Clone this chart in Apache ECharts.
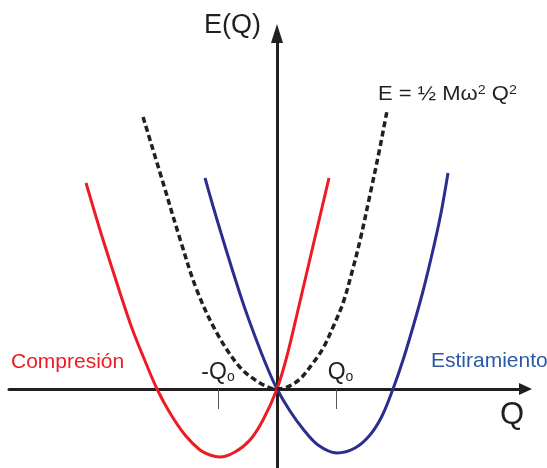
<!DOCTYPE html>
<html>
<head>
<meta charset="utf-8">
<script src="https://cdn.jsdelivr.net/npm/echarts@6/dist/echarts.min.js"></script>
<style>html,body{margin:0;padding:0;background:#fff;}#c{width:547px;height:468px;}</style>
</head>
<body>
<div id="c"></div>
<script>
// Q in units of Qo, E in arbitrary units
const redQ = [-3.237,-3.000,-2.780,-2.610,-2.441,-2.237,-2.034,-1.814,-1.559,-1.305,-1.136,-0.966,-0.712,-0.458,-0.237,0,0.169,0.356,0.610,0.881];
const redE = [3.492,2.695,2.000,1.475,0.983,0.475,0,-0.407,-0.780,-1.034,-1.119,-1.153,-1.068,-0.864,-0.525,0,0.559,1.339,2.424,3.576];
const blueQ = [-1.220,-1.085,-0.949,-0.746,-0.559,-0.356,-0.169,0,0.220,0.441,0.695,1.017,1.322,1.576,1.780,1.966,2.136,2.305,2.475,2.644,2.780,2.898];
const blueE = [3.576,3.102,2.644,1.983,1.407,0.847,0.373,0,-0.373,-0.678,-0.949,-1.085,-1.000,-0.780,-0.458,0,0.492,1.051,1.661,2.356,2.983,3.661];
const harmQ = [-2.27,-1.93,-1.64,-1.36,-1.02,-0.63,-0.32,-0.12,0,0.17,0.39,0.61,0.78,0.95,1.12,1.27,1.41,1.58,1.73,1.86];
const harmE = [4.61,3.49,2.53,1.68,0.95,0.37,0.12,0.02,0,0.03,0.17,0.44,0.69,1.05,1.46,1.98,2.53,3.31,4.02,4.69];
const tickQ = [-1, 1];
const tickLabels = ['-Q', 'Q'];

const zip = (a, b) => a.map((v, i) => [v, b[i]]);
const FONT = '"Liberation Sans", Arial, Helvetica, sans-serif';
const AX = '#231f20';

const chart = echarts.init(document.getElementById('c'), null, {renderer: 'canvas'});
chart.setOption({
  animation: false,
  backgroundColor: '#fff',
  grid: {left: 9, right: 21.5, top: 33.5, bottom: 0, containLabel: false},
  xAxis: {
    type: 'value', min: -4.5424, max: 4.2119,
    axisLine: {onZero: true, lineStyle: {color: AX, width: 3}, symbol: ['none', 'triangle'], symbolSize: [12, 13]},
    axisTick: {show: true, customValues: tickQ, length: 20, lineStyle: {color: '#555', width: 1}},
    axisLabel: {show: false},
    splitLine: {show: false}
  },
  yAxis: {
    type: 'value', min: -1.339, max: 6.0254,
    axisLine: {onZero: true, lineStyle: {color: AX, width: 3}, symbol: ['none', 'triangle'], symbolSize: [12, 19]},
    axisTick: {show: false}, axisLabel: {show: false}, splitLine: {show: false}
  },
  series: [
    {type: 'line', data: zip(blueQ, blueE), smooth: 0.35, showSymbol: false,
     lineStyle: {color: '#2b2e8f', width: 3}},
    {type: 'line', data: zip(redQ, redE), smooth: 0.35, showSymbol: false,
     lineStyle: {color: '#ed1c24', width: 3}},
    {type: 'line', data: zip(harmQ, harmE), smooth: 0.35, showSymbol: false,
     lineStyle: {color: '#231f20', width: 3.5, type: [6, 3.5]}},
    {type: 'scatter', data: zip(tickQ, tickQ.map(() => 0)), symbolSize: 1, silent: true,
     itemStyle: {color: 'rgba(0,0,0,0)'},
     label: {
       show: true, position: 'top', distance: 4, color: '#231f20', opacity: 1,
       formatter: p => (p.value[0] > 0 ? '{p|}' : '') + '{q|' + tickLabels[p.dataIndex] + '}{s|o}',
       rich: {
         p: {width: 9},
         q: {fontSize: 23, lineHeight: 23, fontFamily: FONT, color: '#231f20'},
         s: {fontSize: 14, lineHeight: 7, fontFamily: FONT, color: '#231f20', verticalAlign: 'bottom'}
       }
     }}
  ],
  graphic: [
    {type: 'text', x: 204, y: 12, style: {text: 'E(Q)', font: '27px ' + FONT, fill: '#231f20', textVerticalAlign: 'top'}},
    {type: 'text', x: 378, y: 84, scaleX: 1.1, style: {
      text: 'E = ½ Mω{sup|2} Q{sup|2}', font: '20px ' + FONT, fill: '#231f20', textVerticalAlign: 'top',
      rich: {sup: {fontSize: 13, fontFamily: FONT, fill: '#231f20', verticalAlign: 'top'}}
    }},
    {type: 'text', x: 11, y: 352, style: {text: 'Compresión', font: '21px ' + FONT, fill: '#ed1c24', textVerticalAlign: 'top'}},
    {type: 'text', x: 431, y: 351, style: {text: 'Estiramiento', font: '21px ' + FONT, fill: '#2b59a6', textVerticalAlign: 'top'}},
    {type: 'text', x: 500, y: 400, style: {text: 'Q', font: '31px ' + FONT, fill: '#231f20', textVerticalAlign: 'top'}}
  ]
});
</script>
</body>
</html>
